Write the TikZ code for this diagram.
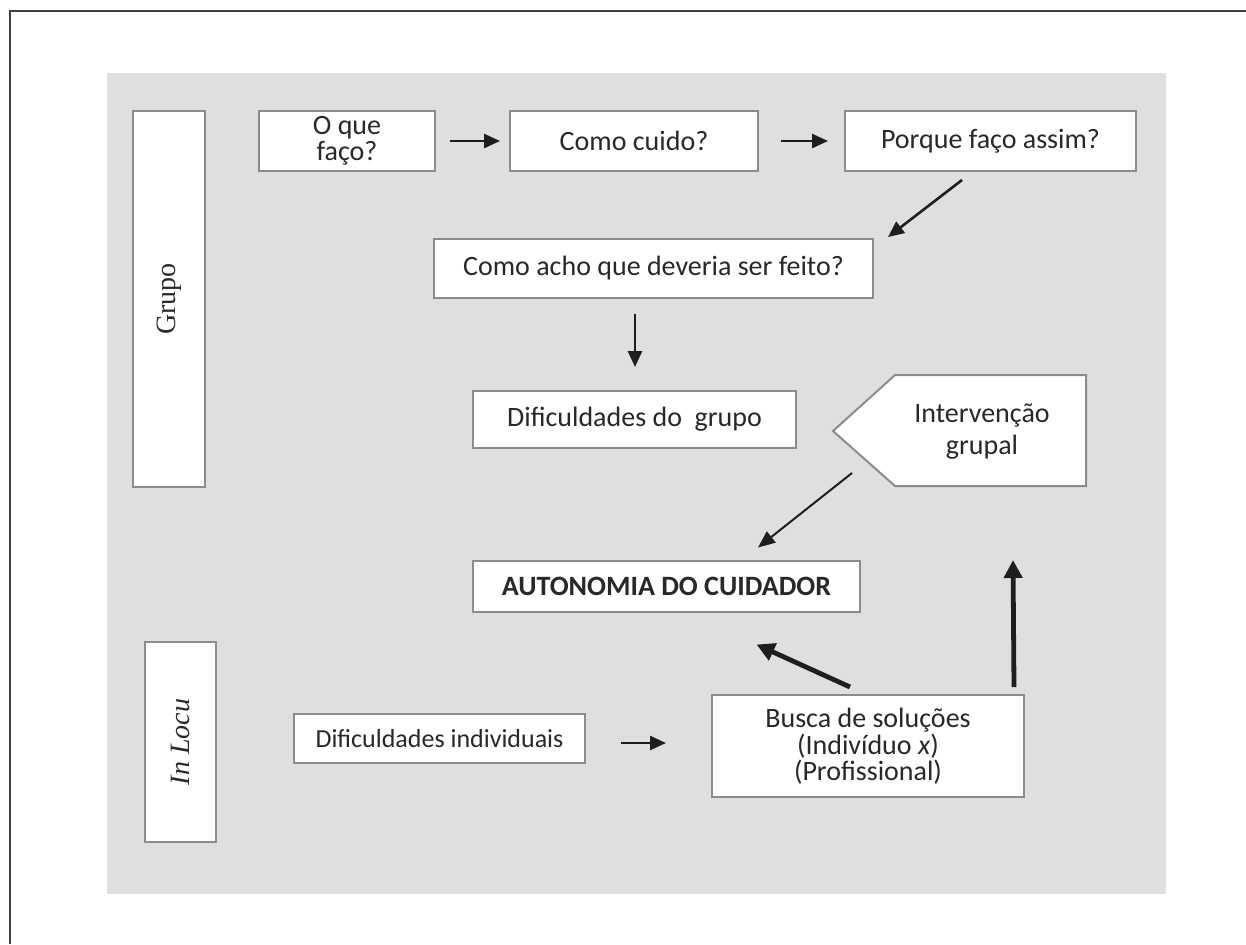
\documentclass[tikz,border=0pt]{standalone}
\usepackage{fontspec}
\setmainfont{Carlito}
\newfontfamily\sidefont{Liberation Serif}
\usetikzlibrary{arrows.meta,calc}

\definecolor{bggray}{RGB}{222,223,225}
\definecolor{edgegray}{RGB}{140,140,140}
\definecolor{inkdark}{RGB}{30,30,30}
\definecolor{txtdark}{RGB}{40,40,40}

\tikzset{
  box/.style={draw=edgegray, line width=1pt, fill=white, inner sep=0pt,
    align=center, text=txtdark, font=\fontsize{14}{11.5}\selectfont},
  sidebox/.style={box, rotate=90, font=\sidefont\fontsize{14}{16}\selectfont},
  flow/.style={draw=inkdark, line width=1.3pt, -{Triangle[length=8pt,width=7pt]}},
  thinflow/.style={draw=inkdark, line width=1pt, -{Triangle[length=8.5pt,width=7pt]}},
  boldflow/.style={draw=inkdark, line width=2.4pt, -{Triangle[length=9pt,width=9pt]}},
}

\begin{document}
\begin{tikzpicture}[x=0.5pt,y=-0.5pt]
    \useasboundingbox (0,0) rectangle (1246,944);
    % frame and grey panel
    \draw[line width=1pt, black!75] (10,944) -- (10,11) -- (1246,11);
    \fill[bggray] (107,73) rectangle (1166,894);

    % side labels
    \node[sidebox, minimum width=188pt, minimum height=36pt] (grupo) at (169,299) {Grupo};
    \node[sidebox, minimum width=100pt, minimum height=35.5pt] (inlocu) at (180.5,742) {\itshape In Locu};

    % group path
    \node[box, minimum width=88pt, minimum height=30pt] (oque) at (347,141) {O que\\faço?};
    \node[box, minimum width=124pt, minimum height=30pt] (comocuido) at (634,141) {Como cuido?};
    \node[box, minimum width=145.5pt, minimum height=30pt] (porque) at (990.5,141) {Porque faço assim?};
    \node[box, minimum width=219.5pt, minimum height=29.5pt] (comoacho) at (653.5,268.5) {Como acho que deveria ser feito?};
    \node[box, minimum width=161.5pt, minimum height=28.5pt] (difs) at (634.5,419.5) {Dificuldades do~~grupo};

    % pentagon
    \draw[draw=edgegray, line width=1pt, fill=white] (833,431) coordinate (tip) -- (895,375) -- (1086,375) -- (1086,486) -- (895,486) -- cycle;
    \node[align=center, text=txtdark, font=\fontsize{14}{16}\selectfont] (interv) at (982,432) {Intervenção\\grupal};

    \node[box, minimum width=193.5pt, minimum height=25.5pt] (autonomia) at (666.5,586) {\textbf{AUTONOMIA DO CUIDADOR}};

    % in locu path
    \node[box, minimum width=145.5pt, minimum height=24.5pt, font=\fontsize{13}{13}\selectfont] (difind) at (439.5,738.5) {Dificuldades individuais};
    \node[box, minimum width=156pt, minimum height=51pt] (busca) at (868,746) {Busca de soluções\\(Indivíduo \textit{x})\\(Profissional)};

    % arrows
    \draw[flow] ($(oque.east)+(14,0)$) -- ($(comocuido.west)+(-9,0)$);
    \draw[flow] ($(comocuido.east)+(22,0)$) -- ($(porque.west)+(-16,0)$);
    \draw[flow] ($(porque.south)+(-28.5,8)$) -- ($(comoacho.north east)+(14,-1)$);
    \draw[flow] ($(comoacho.south)+(-18.5,15)$) -- ($(difs.north)+(0.5,-23)$);
    \draw[thinflow] ($(tip)+(19,42)$) -- ($(autonomia.north)+(91.5,-12)$);
    \draw[boldflow] ($(busca.north)+(-18,-7)$) -- ($(autonomia.south)+(90,32)$);
    \draw[boldflow] ($(busca.north east)+(-11,-7)$) -- ($(tip)+(180,129)$);
    \draw[flow] ($(difind.east)+(35,4.5)$) -- ($(busca.west)+(-45,-3)$);
\end{tikzpicture}
\end{document}
